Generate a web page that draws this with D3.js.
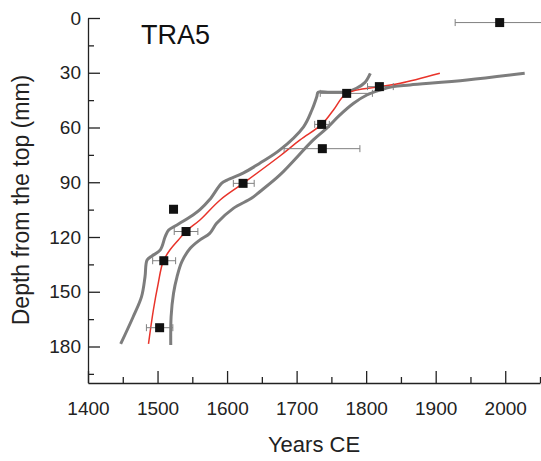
<!DOCTYPE html>
<html>
<head>
<meta charset="utf-8">
<script src="https://cdn.jsdelivr.net/npm/d3@7"></script>
<style>
  body { margin: 0; background: #fff; }
  svg { display: block; font-family: "Liberation Sans", Arial, sans-serif; }
  .domain { stroke: #222; stroke-width: 1.3; }
  .tick line { stroke: #222; stroke-width: 1.3; }
  .tick text { fill: #222; font-size: 19px; }
</style>
</head>
<body>
<div id="chart"></div>
<script>
// dated samples (square markers with horizontal error bars)
const sampleYears = [1992, 1819, 1772, 1736, 1737, 1623, 1523, 1541, 1509, 1503];
const sampleDepths = [2.5, 37.6, 41.3, 58.3, 71.6, 90.6, 104.8, 117, 133, 169.7];
const errMin = [1928, 1802, 1734, 1726, 1682, 1609, null, 1524, 1493, 1484];
const errMax = [2070, 1839, 1809, 1747, 1791, 1639, null, 1558, 1526, 1522];

// age model (red) and its bounds (grey)
const modelYears = [1487, 1494, 1501, 1508, 1518, 1530, 1542, 1561, 1590, 1623, 1676, 1705, 1736, 1753, 1772, 1820, 1849, 1906];
const modelDepths = [178.6, 160, 145.4, 133.5, 127, 121.6, 116.5, 110.7, 99.7, 90.6, 75.6, 66.8, 58.3, 50.4, 41.3, 37.6, 35.8, 30.3];

const leftYears = [1447, 1465, 1477, 1482, 1485, 1492, 1504, 1511, 1516, 1528, 1551, 1561, 1575, 1592, 1600, 1623, 1647, 1676, 1710, 1722, 1729, 1731, 1748, 1772, 1786, 1798, 1806];
const leftDepths = [178.6, 163.7, 152.7, 141.8, 132.6, 130.4, 127.1, 119.8, 116.2, 113.4, 107.9, 105, 99.5, 90.6, 88.8, 85, 79.6, 72.3, 59.6, 50.4, 43.1, 40.7, 40.7, 40.4, 38.5, 35.4, 30.3];

const rightYears = [1519, 1519.5, 1523, 1528, 1535, 1547, 1561, 1575, 1585, 1609, 1635, 1647, 1676, 1724, 1743, 1762, 1782, 1801, 1820, 1839, 1863, 1945, 2028];
const rightDepths = [179.2, 163.7, 150.8, 141.8, 133.5, 126.2, 121.6, 118, 112.5, 104.3, 98.8, 95.2, 86, 66.8, 60.5, 53.2, 46.7, 42.2, 39.5, 37.6, 36.7, 34, 30.3];

const yearTicks = [1400, 1500, 1600, 1700, 1800, 1900, 2000];
const yearMinor = [1450, 1550, 1650, 1750, 1850, 1950, 2050];
const depthTicks = [0, 30, 60, 90, 120, 150, 180];
const depthMinor = [15, 45, 75, 105, 135, 165, 195];

const width = 541, height = 461;

const svg = d3.select('#chart').append('svg')
    .attr('width', width)
    .attr('height', height);

const x = d3.scaleLinear().domain([1400, 2050]).range([88, 540]);
const y = d3.scaleLinear().domain([0, 200]).range([18, 383]);

// axes, ticks pointing inward
svg.append('g')
    .attr('transform', `translate(0,${y(200)})`)
    .call(d3.axisBottom(x).tickValues(yearMinor).tickSize(-6).tickSizeOuter(0).tickFormat(''))
    .select('.domain').remove();
svg.append('g')
    .attr('transform', `translate(0,${y(200)})`)
    .call(d3.axisBottom(x).tickValues(yearTicks).tickSize(-12).tickSizeOuter(0).tickPadding(19).tickFormat(d3.format('d')));

svg.append('g')
    .attr('transform', `translate(${x(1400)},0)`)
    .call(d3.axisLeft(y).tickValues(depthMinor).tickSize(-6).tickSizeOuter(0).tickFormat(''))
    .select('.domain').remove();
svg.append('g')
    .attr('transform', `translate(${x(1400)},0)`)
    .call(d3.axisLeft(y).tickValues(depthTicks).tickSize(-12).tickSizeOuter(0).tickPadding(7));

// axis titles
svg.append('text')
    .attr('x', 314).attr('y', 452)
    .attr('text-anchor', 'middle')
    .style('font-size', '22px').style('fill', '#222')
    .text('Years CE');

svg.append('text')
    .attr('transform', 'translate(29,200) rotate(-90)')
    .attr('text-anchor', 'middle')
    .style('font-size', '23px').style('fill', '#222')
    .text('Depth from the top (mm)');

svg.append('text')
    .attr('x', 141).attr('y', 44)
    .style('font-size', '27px').style('fill', '#111')
    .text('TRA5');

const linea = d3.line()
    .x(d => x(d[0]))
    .y(d => y(d[1]))
    .curve(d3.curveCatmullRom.alpha(0.5));

const plot = svg.append('g');

plot.append('path')
    .datum(leftYears.map((a, i) => [a, leftDepths[i]]))
    .attr('d', linea)
    .attr('fill', 'none').attr('stroke', '#7d7d7d').attr('stroke-width', 3);

plot.append('path')
    .datum(rightYears.map((a, i) => [a, rightDepths[i]]))
    .attr('d', linea)
    .attr('fill', 'none').attr('stroke', '#7d7d7d').attr('stroke-width', 3);

plot.append('path')
    .datum(modelYears.map((a, i) => [a, modelDepths[i]]))
    .attr('d', linea)
    .attr('fill', 'none').attr('stroke', '#e8332a').attr('stroke-width', 1.5);

// error bars
const muestras = sampleYears.map((a, i) => ({ year: a, depth: sampleDepths[i], lo: errMin[i], hi: errMax[i] }));
const conError = muestras.filter(d => d.lo !== null);

const barras = plot.selectAll('.err').data(conError).enter().append('g')
    .attr('class', 'err')
    .attr('stroke', '#808080').attr('stroke-width', 1);
barras.append('line')
    .attr('x1', d => x(d.lo)).attr('x2', d => x(d.hi))
    .attr('y1', d => y(d.depth)).attr('y2', d => y(d.depth));
barras.append('line')
    .attr('x1', d => x(d.lo)).attr('x2', d => x(d.lo))
    .attr('y1', d => y(d.depth) - 3.5).attr('y2', d => y(d.depth) + 3.5);
barras.append('line')
    .attr('x1', d => x(d.hi)).attr('x2', d => x(d.hi))
    .attr('y1', d => y(d.depth) - 3.5).attr('y2', d => y(d.depth) + 3.5);

plot.selectAll('.pt').data(muestras).enter().append('rect')
    .attr('class', 'pt')
    .attr('x', d => x(d.year) - 4.5)
    .attr('y', d => y(d.depth) - 4.5)
    .attr('width', 9).attr('height', 9)
    .attr('fill', '#111');
</script>
</body>
</html>
